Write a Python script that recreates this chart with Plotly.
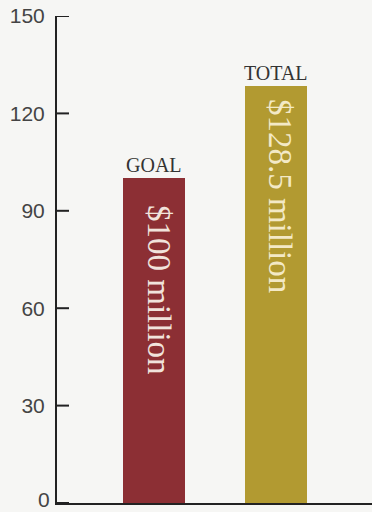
import plotly.graph_objects as go

categories = ["GOAL", "TOTAL"]
values = [100, 128.5]
bar_labels = ["$100 million", "$128.5 million"]
bar_colors = ["#8c2f34", "#b29a31"]
inner_text_colors = ["#f1e3dc", "#f3e9c6"]
inner_text_shift = [-25, -11]
tick_vals = [0, 30, 60, 90, 120, 150]

tick_font = dict(family="Liberation Sans Narrow, Arial Narrow, Liberation Sans, sans-serif", size=21, color="#444444")

fig = go.Figure()
fig.add_trace(go.Bar(
    x=categories, y=values, width=0.51,
    marker=dict(color=bar_colors, line=dict(width=0)),
    hoverinfo="skip",
))

annotations = []
for cat, val, lab, tc, sh in zip(categories, values, bar_labels, inner_text_colors, inner_text_shift):
    annotations.append(dict(
        x=cat, y=val, xref="x", yref="y", text=cat, showarrow=False,
        yanchor="bottom", yshift=0,
        font=dict(family="Liberation Serif, Times New Roman, serif", size=20, color="#333333"),
    ))
    annotations.append(dict(
        x=cat, y=val, xref="x", yref="y", text=lab, showarrow=False,
        yanchor="top", yshift=sh, xshift=4, textangle=90,
        font=dict(family="Liberation Serif, Times New Roman, serif", size=33, color=tc),
    ))
# zero label sits at the bottom edge; keep it fully inside the picture
annotations.append(dict(
    x=0, y=tick_vals[0], xref="paper", yref="y", text=str(tick_vals[0]), showarrow=False,
    xanchor="right", yanchor="bottom", yshift=-9, xshift=-6, borderpad=0,
    font=tick_font,
))

shapes = []
for v in tick_vals:
    shapes.append(dict(
        type="line", xref="paper", yref="y", xsizemode="pixel", xanchor=0,
        x0=0, x1=12, y0=v, y1=v, line=dict(color="#222222", width=2),
    ))

fig.update_layout(
    width=372, height=512,
    margin=dict(l=57, r=0, t=16, b=9),
    paper_bgcolor="#f6f6f4", plot_bgcolor="#f6f6f4",
    showlegend=False,
    bargap=0,
    annotations=annotations,
    shapes=shapes,
    xaxis=dict(
        range=[-0.8, 1.79], showgrid=False, zeroline=False,
        showline=True, linecolor="#222222", linewidth=2,
        showticklabels=False, ticks="", fixedrange=True,
    ),
    yaxis=dict(
        range=[0, 150], tickvals=tick_vals, showgrid=False, zeroline=False,
        showline=True, linecolor="#222222", linewidth=2,
        ticks="", ticklabelstandoff=6,
        tickfont=tick_font,
        fixedrange=True,
    ),
)

fig.write_html("out.html")
